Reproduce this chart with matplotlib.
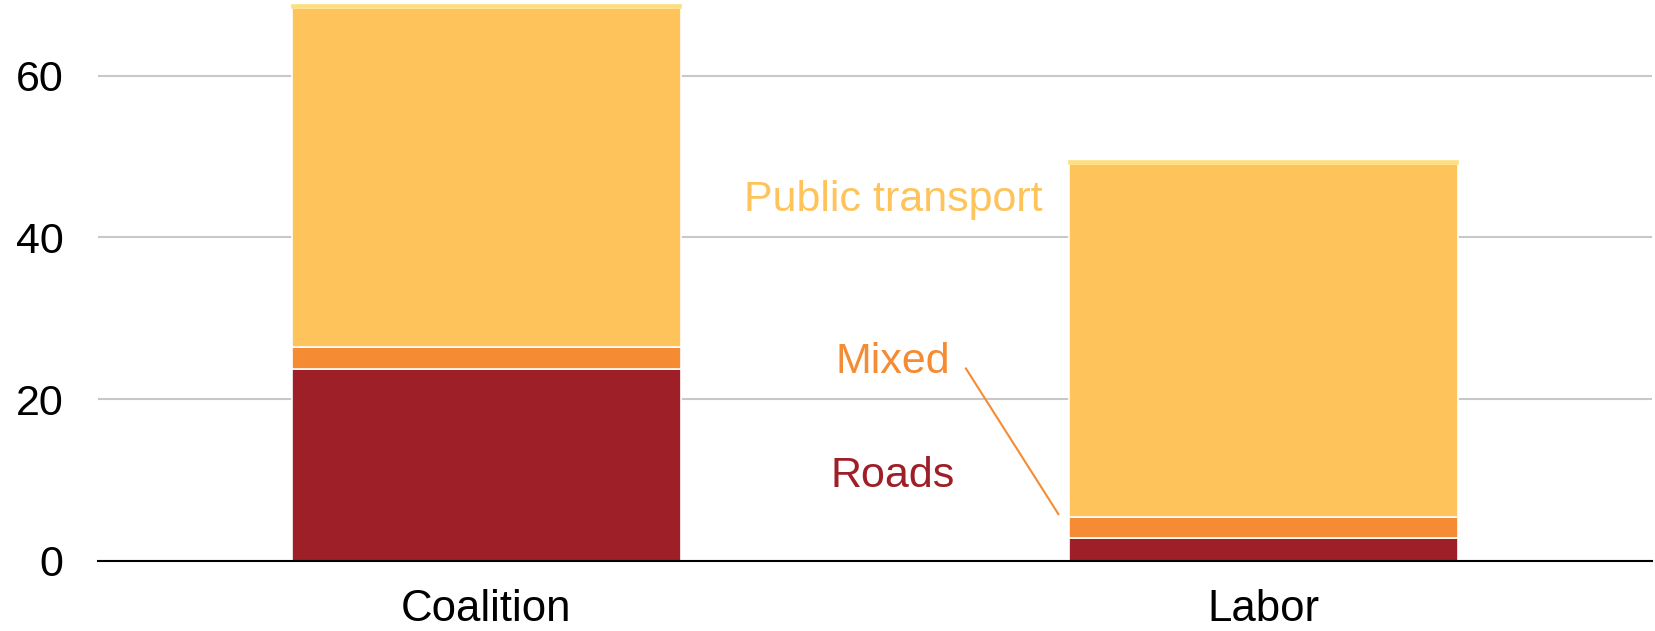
import numpy as np
import matplotlib.pyplot as plt

plt.rcParams['font.family'] = ['Liberation Sans', 'DejaVu Sans']

# --- dados ---
partidos = ["Coalition", "Labor"]
roads = [23.7, 2.9]
mixed = [2.7, 2.6]
public_transport = [41.9, 43.55]
other = [0.4, 0.4]

cores = {
    "roads": "#9e1f27",
    "mixed": "#f58b33",
    "pt": "#fec35a",
    "other": "#fddf80",
}

fig = plt.figure(figsize=(16.56, 6.31), dpi=100)
ax = fig.add_axes([98 / 1656, 1 - 561 / 631, (1652 - 98) / 1656, 561 / 631])

x = np.arange(len(partidos))
largura = 0.5
base = np.zeros(len(partidos))
series = [(roads, cores["roads"], "white"), (mixed, cores["mixed"], "white"),
          (public_transport, cores["pt"], "white"),
          (other, cores["other"], cores["other"])]
for valores, cor, borda in series:
    ax.bar(x, valores, largura, bottom=base, color=cor, edgecolor=borda,
           linewidth=1.2, zorder=3)
    base += np.array(valores)

ax.set_xlim(-0.5, 1.5)
ax.set_ylim(0, 69.35)
ax.set_yticks([0, 20, 40, 60])
ax.set_xticks(x)
ax.set_xticklabels(partidos)
ax.tick_params(axis="y", length=0, labelsize=31, pad=25)
ax.tick_params(axis="x", length=0, labelsize=31.5, pad=20)
ax.grid(axis="y", color="#c8c8c8", linewidth=1.5, zorder=0)
for lado in ["top", "right", "left"]:
    ax.spines[lado].set_visible(False)
ax.spines["bottom"].set_color("black")
ax.spines["bottom"].set_linewidth(1.5)
ax.spines["bottom"].set_zorder(4)

# rótulos das séries
ax.text(0.523, 43.3, "Public transport", color=cores["pt"], fontsize=31,
        ha="center", va="baseline")
ax.text(0.523, 23.2, "Mixed", color=cores["mixed"], fontsize=31,
        ha="center", va="baseline")
ax.text(0.523, 9.15, "Roads", color=cores["roads"], fontsize=31,
        ha="center", va="baseline")
ax.plot([0.617, 0.736], [23.8, 5.8], color=cores["mixed"], linewidth=1.5,
        zorder=5)

fig.savefig("out.png", dpi=100)
